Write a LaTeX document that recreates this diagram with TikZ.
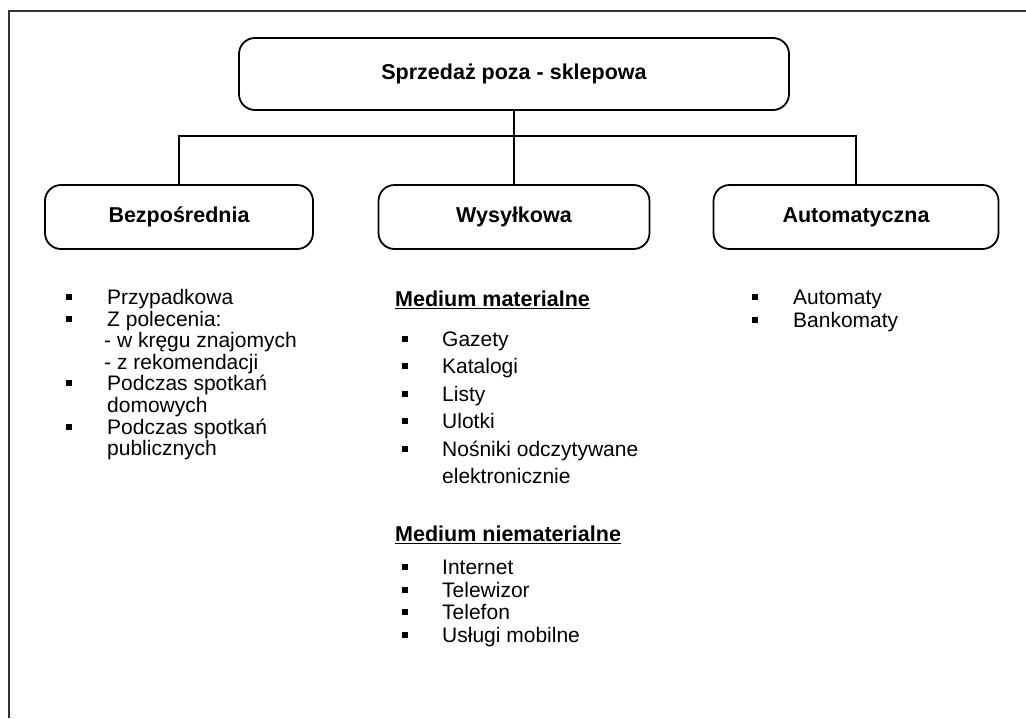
\documentclass[tikz,border=0pt]{standalone}
\usepackage{fontspec}
\setmainfont{Liberation Sans}
\begin{document}
\begin{tikzpicture}[x=1pt,y=-1pt,
  box/.style={draw, line width=1.8pt, rounded corners=16pt, inner sep=0pt, font=\fontsize{21.5}{24}\selectfont\bfseries},
  item/.style={anchor=base west, inner sep=0pt, font=\fontsize{21}{24}\selectfont},
  head/.style={anchor=base west, inner sep=0pt, font=\fontsize{21.5}{24}\selectfont\bfseries},
  bul/.style={fill=black, minimum size=6pt, inner sep=0pt},
  conn/.style={line width=1.8pt}]
\useasboundingbox (0,0) rectangle (1026,718);
\draw[line width=1.3pt, black!80] (9,718) -- (9,11) -- (1026,11);
% boxes
\node[box, minimum width=550pt, minimum height=72pt] (top) at (514,74) {Sprzedaż poza - sklepowa};
\node[box, minimum width=268pt, minimum height=64pt] (bez) at (179,217) {Bezpośrednia};
\node[box, minimum width=271pt, minimum height=64pt] (wys) at (514,217) {Wysyłkowa};
\node[box, minimum width=285pt, minimum height=64pt] (aut) at (856,217) {Automatyczna};
\coordinate (j) at (514,136);
\draw[conn] (top.south) -- (wys.north);
\draw[conn] (bez.north) |- (j) -| (aut.north);
% left list
\node[item] (l1) at (107,304.5) {Przypadkowa};
\node[item] (l2) at (107,326.1) {Z polecenia:};
\node[item] (l3) at (104,347.7) {- w kręgu znajomych};
\node[item] (l4) at (104,369.3) {- z rekomendacji};
\node[item] (l5) at (107,390.9) {Podczas spotkań};
\node[item] (l6) at (107,412.5) {domowych};
\node[item] (l7) at (107,434.1) {Podczas spotkań};
\node[item] (l8) at (107,455.7) {publicznych};
\node[bul] (lb1) at (69,297) {};
\node[bul] (lb2) at (69,318.6) {};
\node[bul] (lb5) at (69,383.4) {};
\node[bul] (lb7) at (69,426.6) {};
% middle list
\node[head] (m0) at (395,306.5) {\underline{Medium materialne}};
\node[item] (m1) at (442,346.5) {Gazety};
\node[item] (m2) at (442,373.9) {Katalogi};
\node[item] (m3) at (442,401.3) {Listy};
\node[item] (m4) at (442,428.7) {Ulotki};
\node[item] (m5) at (442,456.1) {Nośniki odczytywane};
\node[item] (m6) at (442,483.5) {elektronicznie};
\node[bul] (mb1) at (405,339) {};
\node[bul] (mb2) at (405,366.4) {};
\node[bul] (mb3) at (405,393.8) {};
\node[bul] (mb4) at (405,421.2) {};
\node[bul] (mb5) at (405,448.6) {};
\node[head] (n0) at (395,541.5) {\underline{Medium niematerialne}};
\node[item] (n1) at (442,574.5) {Internet};
\node[item] (n2) at (442,597) {Telewizor};
\node[item] (n3) at (442,619.5) {Telefon};
\node[item] (n4) at (442,642) {Usługi mobilne};
\node[bul] (nb1) at (405,567) {};
\node[bul] (nb2) at (405,589.5) {};
\node[bul] (nb3) at (405,612) {};
\node[bul] (nb4) at (405,634.5) {};
% right list
\node[item] (r1) at (793,304.5) {Automaty};
\node[item] (r2) at (793,327.5) {Bankomaty};
\node[bul] (rb1) at (755,297) {};
\node[bul] (rb2) at (755,320) {};
\end{tikzpicture}
\end{document}
